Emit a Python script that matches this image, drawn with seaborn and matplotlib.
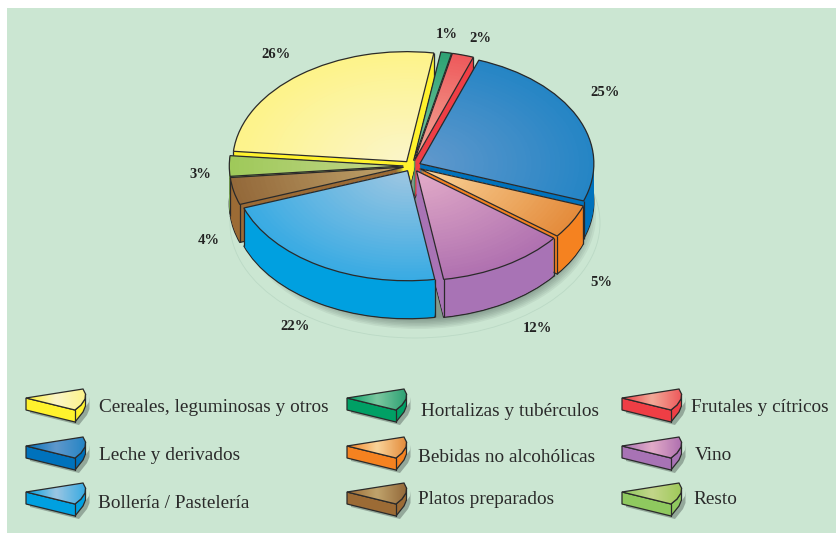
import numpy as np
import matplotlib
matplotlib.use("Agg")
import matplotlib.pyplot as plt
from matplotlib.patches import Ellipse, Polygon, Rectangle
import seaborn as sns

categories = ['Cereales, leguminosas y otros', 'Resto', 'Platos preparados', 'Bollería / Pastelería',
              'Vino', 'Bebidas no alcohólicas', 'Leche y derivados', 'Frutales y cítricos',
              'Hortalizas y tubérculos']
shares = [26, 3, 4, 22, 12, 5, 25, 2, 1]

wall_colours = ['#fff22d', '#8fc95f', '#9c6b35', '#00a0e0', '#a873b5', '#f58220', '#0072bc', '#ef3e45', '#00a065']
top_outer = ['#fdf38a', '#9fc95a', '#94693a', '#39abe3', '#b071b0', '#e48c3c', '#2585c5', '#ee5a5c', '#2ea274']
top_inner = ['#fbf5c8', '#c3d68a', '#c0a46c', '#9cc6e2', '#e2abc8', '#f9d49a', '#6098cc', '#f2aa98', '#7cc8a0']

# back to front, each slice covers the cut wall of the one before
draw_order = [0, 8, 7, 6, 1, 2, 5, 4, 3]

# legend rows, left to right, in pixels of the 837x533 picture
legend_rows = [0, 8, 7, 6, 5, 4, 3, 2, 1]
icon_xy = [(26, 398), (347, 398), (622, 398), (26, 446), (347, 446), (622, 446), (26, 492), (347, 492), (622, 492)]
text_xy = [(99, 407), (421, 411), (691, 407), (99, 455), (418, 458), (695, 455), (98, 503), (418, 500), (693, 500)]

pct_xy = [(276, 55), (200, 174), (209, 241), (295, 326), (537, 328), (601, 282), (605, 92), (480, 38), (447, 34)]

W, H = 837, 533
cx, cy, rx, ry = 412, 166, 174, 110
depth_px = 38
line = '#2a2a2a'
panel = '#cbe6d2'

sns.set_theme(style='white')
plt.rcParams['font.family'] = ['Liberation Serif', 'DejaVu Serif']

fig = plt.figure(figsize=(W / 100, H / 100), dpi=100, facecolor='white')
ax_px = fig.add_axes([0, 0, 1, 1])
ax_px.axis('off')
ax_px.add_patch(Rectangle((7, 8), W - 7, H - 8, facecolor=panel, edgecolor='none', zorder=0))

# soft shadow under the pie
ax_px.add_patch(Ellipse((cx + 3, cy + 57), 370, 230, facecolor=panel, edgecolor='#bbd9c5', lw=0.6, zorder=1))
for k in range(8):
    ax_px.add_patch(Ellipse((cx + 6, cy + 50), 356 - k * 4, 226 - k * 3, facecolor='#30403a',
                            edgecolor='none', alpha=0.07, zorder=1))

ax = fig.add_axes([0, 0, 1, 1])
ax.patch.set_visible(False)
explode = [0.05] * len(shares)
depth = depth_px / ry
rank = {i: n for n, i in enumerate(draw_order)}
n_rings = 36
ramps = [sns.blend_palette([a, b], n_rings) for a, b in zip(top_outer, top_inner)]


def place(wedges, level, edge=False):
    for i, w in enumerate(wedges):
        w.set_zorder(rank[i] * 10 + level)
        if edge:
            w.set_edgecolor(line)
            w.set_linewidth(0.9)
        else:
            w.set_edgecolor('none')
            w.set_linewidth(0)


kw = dict(startangle=81, counterclock=True, explode=explode)

# side walls: the same pie stacked downwards
for k in np.linspace(depth, 0, depth_px + 1):
    wedges, _ = ax.pie(shares, colors=wall_colours, center=(0, -k), **kw)
    place(wedges, 1, edge=(k == depth))

# top face, rings from the rim to the centre
for j, r in enumerate(np.linspace(1, 0.04, n_rings)):
    wedges, _ = ax.pie(shares, colors=[p[j] for p in ramps], radius=r, **kw)
    place(wedges, 2)

outline, _ = ax.pie(shares, colors=['none'] * len(shares), **kw)
place(outline, 3, edge=True)
for w in outline:
    w.set_facecolor('none')

# vertical corners of the walls, under the top face of their own slice
for i, w in enumerate(outline):
    x0, y0 = w.center
    for t in (w.theta1, w.theta2):
        px = x0 + np.cos(np.radians(t))
        py = y0 + np.sin(np.radians(t))
        ax.plot([px, px], [py, py - depth], color=line, lw=0.9, zorder=rank[i] * 10 + 1.5,
                solid_capstyle='butt')

ax.set_aspect('auto')
ax.set_xlim((0 - cx) / rx, (W - cx) / rx)
ax.set_ylim((cy - H) / ry, cy / ry)

for i, (x, y) in enumerate(pct_xy):
    ax_px.text(x, y, f'{shares[i]}%', ha='center', va='center', fontsize=10.5, fontweight='bold',
               color='#222222', zorder=5)

# legend swatches: small wedge with a wall, drawn from one outline
icon_top = np.array([(0, 0), (57, -9), (59.5, -4), (59, 1), (55, 7), (49, 12)])
icon_side = np.array([(0, 0), (49, 12), (55, 7), (59, 1), (59.5, -4), (59.5, 8), (57, 14), (49, 24), (0, 12)])

for slot, i in enumerate(legend_rows):
    x, y = icon_xy[slot]
    off = np.array([x, y])
    shadow = Polygon(icon_side + off + (4, 3), closed=True, facecolor='#6f7f76', edgecolor='none', alpha=0.6, zorder=2)
    ax_px.add_patch(shadow)
    ax_px.add_patch(Polygon(icon_side + off, closed=True, facecolor=wall_colours[i], edgecolor=line, lw=0.9, zorder=3))
    top = Polygon(icon_top + off, closed=True, facecolor='none', edgecolor=line, lw=0.9, zorder=3.2)
    ax_px.add_patch(top)
    ramp = sns.blend_palette([wall_colours[i], top_inner[i], top_outer[i]], 32)
    grad = np.array(ramp)[None, :, :]
    im = ax_px.imshow(grad, extent=(x, x + 60, y + 12, y - 9), aspect='auto', zorder=3.1, interpolation='bilinear')
    im.set_clip_path(top)
    ax_px.plot([x + 49, x + 49], [y + 12, y + 24], color=line, lw=0.9, zorder=4)
    tx, ty = text_xy[slot]
    ax_px.text(tx, ty, categories[i], ha='left', va='center', fontsize=13.85, color='#2a2a2a', zorder=5)

ax_px.set_xlim(0, W)
ax_px.set_ylim(H, 0)

fig.savefig('out.png', dpi=100, facecolor='white')
plt.close()
